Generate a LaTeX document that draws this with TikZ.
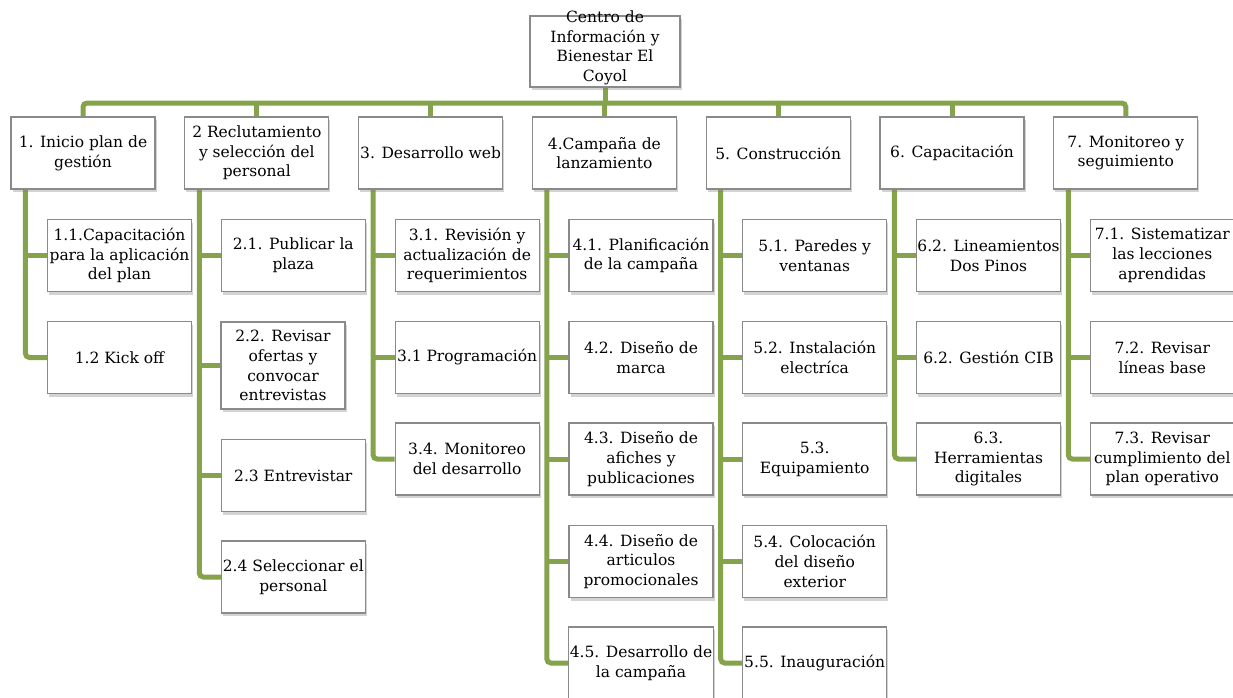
\documentclass[tikz,border=0pt]{standalone}
\usepackage{fontspec}
\setmainfont{DejaVu Serif}
\usetikzlibrary{shadows,backgrounds}
\definecolor{conncol}{HTML}{84A34A}
\definecolor{boxline}{HTML}{8A8A8A}
\begin{document}
\begin{tikzpicture}[x=1pt,y=-1pt,
  wbs/.style={draw=boxline, line width=1.1pt, fill=white, minimum width=144pt,
    minimum height=72pt, inner sep=1pt, align=center,
    font=\fontsize{15.5}{19.7}\selectfont,
    drop shadow={shadow xshift=1.5pt, shadow yshift=-3pt, opacity=0.35}},
  conn/.style={draw=conncol, line width=5pt}]
\useasboundingbox (0,0) rectangle (1233,697);
\clip (0,0) rectangle (1233,697);

% root
\node[wbs, inner sep=0pt, minimum height=71pt] (root) at (605,51.5)
  {\smash{\parbox[c]{150pt}{\centering\fontsize{15.5}{19.7}\selectfont Centro de\\Información y\\Bienestar El\\Coyol}}};

% level 1
\node[wbs] (b1) at (83,153)    {1. Inicio plan de\\gestión};
\node[wbs] (b2) at (256.8,153) {2 Reclutamiento\\y selección del\\personal};
\node[wbs] (b3) at (430.6,153) {3. Desarrollo web};
\node[wbs] (b4) at (604.4,153) {4.Campaña de\\lanzamiento};
\node[wbs] (b5) at (778.2,153) {5. Construcción};
\node[wbs] (b6) at (952,153)   {6. Capacitación};
\node[wbs] (b7) at (1125.8,153){7. Monitoreo y\\seguimiento};

% column 1
\node[wbs] (c11) at (119.5,255.5) {1.1.Capacitación\\para la aplicación\\del plan};
\node[wbs] (c12) at (119.5,357.5) {1.2 Kick off};
% column 2
\node[wbs] (c21) at (293.3,255.5) {2.1. Publicar la\\plaza};
\node[wbs, minimum width=124pt, minimum height=87pt] (c22) at (283,365.5) {2.2. Revisar\\ofertas y\\convocar\\entrevistas};
\node[wbs] (c23) at (293.3,475.5) {2.3 Entrevistar};
\node[wbs] (c24) at (293.3,577) {2.4 Seleccionar el\\personal};
% column 3
\node[wbs] (c31) at (467.1,255.5) {3.1. Revisión y\\actualización de\\requerimientos};
\node[wbs] (c32) at (467.1,357.5) {3.1 Programación};
\node[wbs] (c33) at (467.1,459) {3.4. Monitoreo\\del desarrollo};
% column 4
\node[wbs] (c41) at (641,255.5) {4.1. Planificación\\de la campaña};
\node[wbs] (c42) at (641,357.5) {4.2. Diseño de\\marca};
\node[wbs] (c43) at (641,459) {4.3. Diseño de\\afiches y\\publicaciones};
\node[wbs] (c44) at (641,561.5) {4.4. Diseño de\\articulos\\promocionales};
\node[wbs] (c45) at (641,663) {4.5. Desarrollo de\\la campaña};
% column 5
\node[wbs] (c51) at (814.7,255.5) {5.1. Paredes y\\ventanas};
\node[wbs] (c52) at (814.7,357.5) {5.2. Instalación\\electríca};
\node[wbs] (c53) at (814.7,459) {5.3.\\Equipamiento};
\node[wbs] (c54) at (814.7,561.5) {5.4. Colocación\\del diseño\\exterior};
\node[wbs] (c55) at (814.7,663) {5.5. Inauguración};
% column 6
\node[wbs] (c61) at (988.5,255.5) {6.2. Lineamientos\\Dos Pinos};
\node[wbs] (c62) at (988.5,357.5) {6.2. Gestión CIB};
\node[wbs] (c63) at (988.5,459) {6.3.\\Herramientas\\digitales};
% column 7
\node[wbs] (c71) at (1162.3,255.5) {7.1. Sistematizar\\las lecciones\\aprendidas};
\node[wbs] (c72) at (1162.3,357.5) {7.2. Revisar\\líneas base};
\node[wbs] (c73) at (1162.3,459) {7.3. Revisar\\cumplimiento del\\plan operativo};

\begin{pgfonlayer}{background}
  \coordinate (bus) at (605,103);
  \draw[conn] (root.south) -- (root.south |- bus);
  \draw[conn, rounded corners=4pt] (b1.north) -- (b1.north |- bus) -- (b7.north |- bus) -- (b7.north);
  \foreach \b in {b2,b3,b4,b5,b6} \draw[conn] (\b.north) -- (\b.north |- bus);

  \foreach \p/\last/\others in {b1/c12/{c11}, b2/c24/{c21,c22,c23}, b3/c33/{c31,c32},
      b4/c45/{c41,c42,c43,c44}, b5/c55/{c51,c52,c53,c54}, b6/c63/{c61,c62}, b7/c73/{c71,c72}} {
    \coordinate (sp) at ([xshift=15pt]\p.south west);
    \draw[conn, rounded corners=4pt] (sp) |- (\last.west);
    \foreach \c in \others \draw[conn] (\c.west) -- (\c.west -| sp);
  }
\end{pgfonlayer}
\end{tikzpicture}
\end{document}
